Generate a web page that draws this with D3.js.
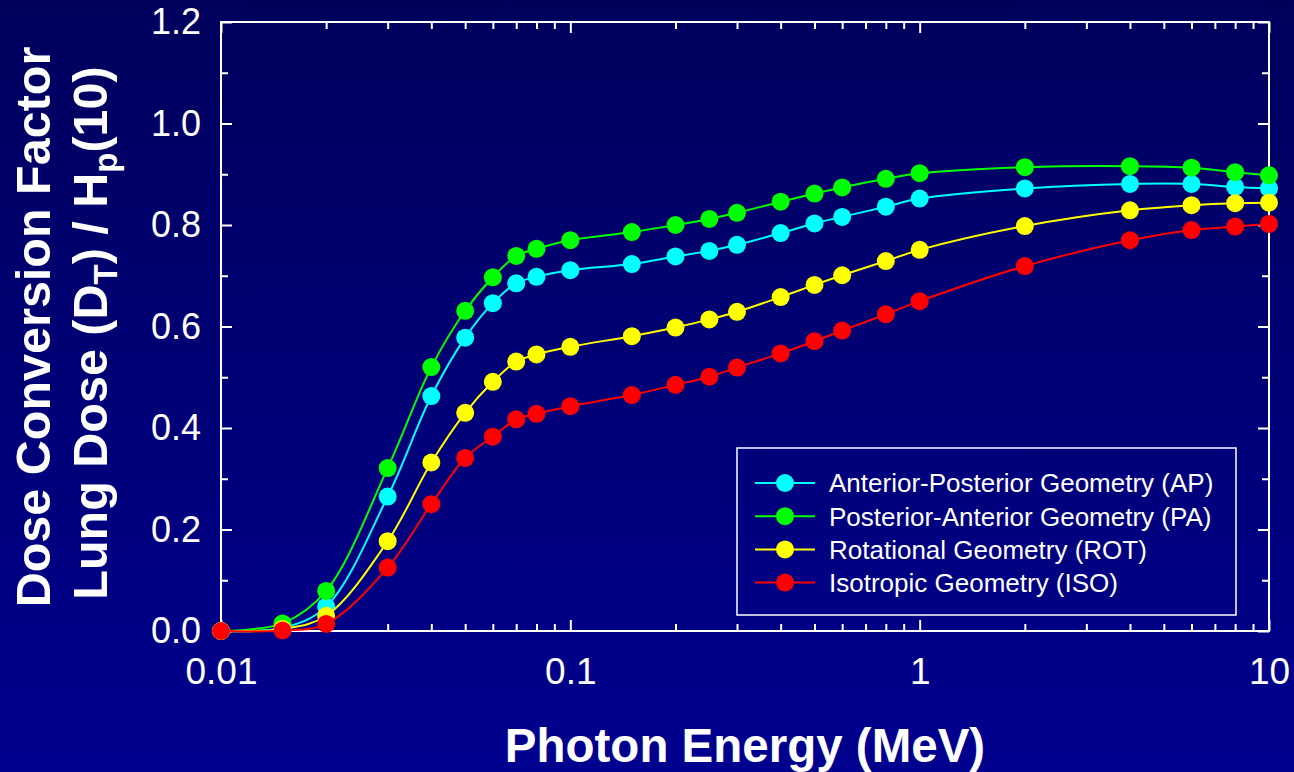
<!DOCTYPE html>
<html>
<head>
<meta charset="utf-8">
<script src="https://cdn.jsdelivr.net/npm/d3@7"></script>
<style>
  html, body { margin: 0; padding: 0; background: #000070; }
  svg { display: block; font-family: "Liberation Sans", Arial, sans-serif; }
</style>
</head>
<body>
<svg width="1294" height="772"></svg>
<script>
// photon energies (MeV)
var energy = [0.01, 0.015, 0.02, 0.03, 0.04, 0.05, 0.06, 0.07, 0.08, 0.1, 0.15, 0.2, 0.25, 0.3, 0.4, 0.5, 0.6, 0.8, 1, 2, 4, 6, 8, 10];

// dose conversion factors, one array per geometry
var apValues = [0, 0.006, 0.048, 0.265, 0.463, 0.578, 0.646, 0.685, 0.698, 0.711, 0.723, 0.738, 0.749, 0.761, 0.784, 0.803, 0.816, 0.836, 0.852, 0.872, 0.881, 0.881, 0.875, 0.872];
var paValues = [0, 0.015, 0.079, 0.321, 0.52, 0.631, 0.697, 0.739, 0.753, 0.77, 0.786, 0.80, 0.812, 0.824, 0.846, 0.862, 0.874, 0.891, 0.902, 0.914, 0.916, 0.913, 0.904, 0.898];
var rotValues = [0, 0.004, 0.03, 0.177, 0.332, 0.43, 0.491, 0.531, 0.545, 0.56, 0.581, 0.598, 0.614, 0.629, 0.658, 0.682, 0.701, 0.729, 0.751, 0.798, 0.829, 0.839, 0.843, 0.844];
var isoValues = [0, 0.001, 0.014, 0.125, 0.25, 0.341, 0.383, 0.417, 0.428, 0.443, 0.465, 0.485, 0.501, 0.519, 0.547, 0.571, 0.592, 0.624, 0.650, 0.719, 0.770, 0.790, 0.797, 0.802];

var seriesNames = ["Anterior-Posterior Geometry (AP)", "Posterior-Anterior Geometry (PA)", "Rotational Geometry (ROT)", "Isotropic Geometry (ISO)"];
var seriesColors = ["#00ffff", "#00ff00", "#ffff00", "#ff0000"];

var xTickValues = [0.01, 0.1, 1, 10];
var xTickLabels = ["0.01", "0.1", "1", "10"];
var yTickValues = [0, 0.2, 0.4, 0.6, 0.8, 1.0, 1.2];

main();

function main() {
  var svg = d3.select("svg"),
    margin = { top: 22, right: 25, bottom: 141, left: 221 },
    width = +svg.attr("width") - margin.left - margin.right,
    height = +svg.attr("height") - margin.top - margin.bottom;

  // background gradient
  var defs = svg.append("defs");
  var grad = defs.append("linearGradient")
    .attr("id", "bg")
    .attr("x1", 0).attr("y1", 0).attr("x2", 0).attr("y2", 1);
  grad.append("stop").attr("offset", "0%").attr("stop-color", "#00005c");
  grad.append("stop").attr("offset", "100%").attr("stop-color", "#00008f");
  svg.append("rect")
    .attr("width", 1294).attr("height", 772)
    .attr("fill", "url(#bg)");

  var x = d3.scaleLog().domain([0.01, 10]).range([0, width]);
  var y = d3.scaleLinear().domain([0, 1.2]).range([height, 0]);

  var g = svg.append("g").attr("transform", "translate(" + margin.left + "," + margin.top + ")");

  // minor ticks for log axis
  var xMinor = [];
  [0.01, 0.1, 1].forEach(function(d) {
    for (var k = 2; k <= 9; k++) xMinor.push(d * k);
  });
  var yMinor = d3.range(0.1, 1.2, 0.2);

  function styleAxis(sel) {
    sel.selectAll(".domain").remove();
    sel.selectAll("line").attr("stroke", "#fff").attr("stroke-width", 2);
    sel.selectAll("text").attr("fill", "#fff");
  }

  // bottom axis
  g.append("g")
    .attr("transform", "translate(0," + height + ")")
    .call(d3.axisBottom(x).tickValues(xMinor).tickSize(-7).tickFormat(""))
    .call(styleAxis);
  g.append("g")
    .attr("transform", "translate(0," + height + ")")
    .call(d3.axisBottom(x).tickValues(xTickValues).tickSize(-11).tickPadding(27)
      .tickFormat(function(d, i) { return xTickLabels[i]; }))
    .call(styleAxis)
    .selectAll("text").attr("font-size", 37);

  // top axis
  g.append("g")
    .call(d3.axisTop(x).tickValues(xMinor).tickSize(-7).tickFormat(""))
    .call(styleAxis);
  g.append("g")
    .call(d3.axisTop(x).tickValues(xTickValues).tickSize(-11).tickFormat(""))
    .call(styleAxis);

  // left axis
  g.append("g")
    .call(d3.axisLeft(y).tickValues(yMinor).tickSize(-7).tickFormat(""))
    .call(styleAxis);
  g.append("g")
    .call(d3.axisLeft(y).tickValues(yTickValues).tickSize(-11).tickPadding(20).tickFormat(d3.format(".1f")))
    .call(styleAxis)
    .selectAll("text").attr("font-size", 36);

  // right axis
  g.append("g")
    .attr("transform", "translate(" + width + ",0)")
    .call(d3.axisRight(y).tickValues(yMinor).tickSize(-7).tickFormat(""))
    .call(styleAxis);
  g.append("g")
    .attr("transform", "translate(" + width + ",0)")
    .call(d3.axisRight(y).tickValues(yTickValues).tickSize(-11).tickFormat(""))
    .call(styleAxis);

  // frame
  g.append("rect")
    .attr("width", width).attr("height", height)
    .attr("fill", "none").attr("stroke", "#fff").attr("stroke-width", 2);

  var allSeries = [apValues, paValues, rotValues, isoValues];

  var line = d3.line()
    .x(function(d) { return x(d.e); })
    .y(function(d) { return y(d.v); })
    .curve(d3.curveCatmullRom.alpha(0.5));

  allSeries.forEach(function(vals, i) {
    var pts = energy.map(function(e, j) { return { e: e, v: vals[j] }; });
    g.append("path")
      .datum(pts)
      .attr("fill", "none")
      .attr("stroke", seriesColors[i])
      .attr("stroke-width", 2)
      .attr("d", line);
    g.selectAll(".dot" + i)
      .data(pts)
      .enter()
      .append("circle")
      .attr("class", "dot" + i)
      .attr("cx", function(d) { return x(d.e); })
      .attr("cy", function(d) { return y(d.v); })
      .attr("r", 9)
      .attr("fill", seriesColors[i]);
  });

  // legend
  var legend = svg.append("g").attr("transform", "translate(737,448)");
  legend.append("rect")
    .attr("width", 499).attr("height", 167)
    .attr("fill", "none").attr("stroke", "#fff").attr("stroke-width", 1.5);
  seriesNames.forEach(function(name, i) {
    var row = legend.append("g").attr("transform", "translate(0," + (35 + i * 33.2) + ")");
    row.append("line")
      .attr("x1", 18).attr("x2", 78)
      .attr("stroke", seriesColors[i]).attr("stroke-width", 2);
    row.append("circle")
      .attr("cx", 48).attr("r", 9).attr("fill", seriesColors[i]);
    row.append("text")
      .attr("x", 92).attr("dy", "0.36em")
      .attr("fill", "#fff").attr("font-size", 26)
      .text(name);
  });

  // x title
  svg.append("text")
    .attr("x", 745).attr("y", 762)
    .attr("text-anchor", "middle")
    .attr("fill", "#fff").attr("font-weight", "bold").attr("font-size", 47.5)
    .text("Photon Energy (MeV)");

  // y title, two lines
  svg.append("text")
    .attr("transform", "translate(50,327) rotate(-90)")
    .attr("text-anchor", "middle")
    .attr("fill", "#fff").attr("font-weight", "bold").attr("font-size", 48.5)
    .text("Dose Conversion Factor");

  var t2 = svg.append("text")
    .attr("transform", "translate(107,333) rotate(-90)")
    .attr("text-anchor", "middle")
    .attr("fill", "#fff").attr("font-weight", "bold").attr("font-size", 48.5);
  t2.append("tspan").text("Lung Dose (D");
  t2.append("tspan").attr("font-size", 33).attr("dy", 10).text("T");
  t2.append("tspan").attr("dy", -10).text(") / H");
  t2.append("tspan").attr("font-size", 33).attr("dy", 10).text("p");
  t2.append("tspan").attr("dy", -10).text("(10)");
}
</script>
</body>
</html>
